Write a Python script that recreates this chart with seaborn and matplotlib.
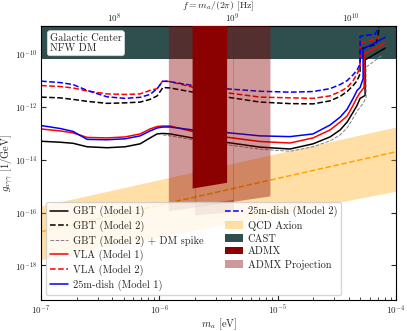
import matplotlib
matplotlib.use("Agg")
import matplotlib.pyplot as plt
import matplotlib.ticker as mticker
import numpy as np
import seaborn as sns
from matplotlib.lines import Line2D
from matplotlib.patches import Patch

# axion mass grid [eV] for the smooth part of the sensitivity curves
mass = [1.0e-7, 1.45e-7, 1.86e-7, 2.45e-7, 3.61e-7, 5.13e-7, 6.87e-7, 8.34e-7,
        9.57e-7, 1.07e-6, 1.23e-6, 1.93e-6, 3.74e-6, 7.10e-6, 1.27e-5, 1.99e-5,
        2.77e-5, 3.37e-5, 3.86e-5, 4.34e-5, 4.69e-5, 4.97e-5]

# sensitivity g_agg [1/GeV] on the grid above
gbt_m1 = [5.0e-14, 4.6e-14, 4.2e-14, 3.1e-14, 2.85e-14, 3.1e-14, 4.0e-14, 6.7e-14,
          9.5e-14, 9.9e-14, 9.5e-14, 6.6e-14, 4.5e-14, 3.0e-14, 2.55e-14, 4.0e-14,
          7.3e-14, 1.34e-13, 2.66e-13, 6.3e-13, 1.15e-12, 2.1e-12]
gbt_m2 = [2.34e-12, 2.19e-12, 1.92e-12, 1.62e-12, 1.36e-12, 1.42e-12, 1.52e-12, 1.92e-12,
          2.6e-12, 5.4e-12, 5.2e-12, 3.6e-12, 2.34e-12, 1.52e-12, 1.33e-12, 1.3e-12,
          1.69e-12, 2.49e-12, 3.8e-12, 6.4e-12, 9.8e-12, 1.8e-11]
vla_m1 = [1.46e-13, 1.23e-13, 1.04e-13, 7.0e-14, 6.7e-14, 7.3e-14, 9.5e-14, 1.46e-13,
          1.81e-13, 1.89e-13, 1.89e-13, 1.16e-13, 7.1e-14, 4.9e-14, 4.3e-14, 6.7e-14,
          1.34e-13, 2.66e-13, 4.5e-13, 1.15e-12, 2.3e-12, 3.5e-12]
vla_m2 = [6.4e-12, 5.9e-12, 5.2e-12, 4.0e-12, 3.1e-12, 2.95e-12, 3.1e-12, 4.2e-12,
          4.9e-12, 9.8e-12, 9.0e-12, 5.5e-12, 3.4e-12, 2.34e-12, 2.2e-12, 2.1e-12,
          2.6e-12, 3.8e-12, 5.4e-12, 9.8e-12, 1.8e-11, 3.0e-11]
dish_m1 = [1.97e-13, 1.52e-13, 1.18e-13, 5.9e-14, 5.7e-14, 6.2e-14, 8.0e-14, 1.23e-13,
           1.59e-13, 1.73e-13, 1.73e-13, 1.34e-13, 1.06e-13, 8.0e-14, 7.5e-14, 9.5e-14,
           2.06e-13, 4.1e-13, 8.1e-13, 2.1e-12, 4.2e-12, 5.4e-12]
dish_m2 = [9.4e-12, 8.3e-12, 7.0e-12, 4.2e-12, 2.4e-12, 2.1e-12, 2.3e-12, 2.95e-12,
           4.9e-12, 9.4e-12, 9.0e-12, 6.4e-12, 4.8e-12, 3.9e-12, 3.6e-12, 3.8e-12,
           4.9e-12, 7.0e-12, 9.8e-12, 1.64e-11, 2.5e-11, 4.2e-11]

# high-mass ends (step up where the band runs out)
gbt_m1_tail_m = [5.48e-5, 5.48e-5, 8.09e-5]
gbt_m1_tail_g = [2.7e-12, 6.0e-11, 1.67e-10]
gbt_m2_tail_m = [4.97e-5, 6.8e-5, 7.2e-5, 7.2e-5]
gbt_m2_tail_g = [1.54e-10, 2.35e-10, 9.3e-10, 1e-8]
vla_m1_tail_m = [5.37e-5, 5.37e-5, 8.09e-5]
vla_m1_tail_g = [5.4e-12, 1.0e-10, 2.6e-10]
vla_m2_tail_m = [4.97e-5, 6.8e-5, 7.2e-5]
vla_m2_tail_g = [2.6e-10, 3.6e-10, 4.5e-10]
dish_m1_tail_m = [5.27e-5, 5.27e-5, 8.09e-5]
dish_m1_tail_g = [1.17e-11, 1.54e-10, 4.3e-10]
dish_m2_tail_m = [4.97e-5, 6.65e-5, 7.06e-5, 7.06e-5]
dish_m2_tail_g = [4.7e-10, 5.6e-10, 9.3e-10, 1e-8]

# GBT (Model 2) + DM spike
spike_m = [1.07e-6, 1.23e-6, 1.93e-6, 3.74e-6, 7.10e-6, 1.27e-5, 1.99e-5, 2.77e-5,
           3.37e-5, 3.86e-5, 4.34e-5, 4.69e-5, 5.27e-5, 5.59e-5, 5.59e-5, 7.7e-5]
spike_g = [8.7e-14, 8.0e-14, 5.7e-14, 3.7e-14, 2.5e-14, 2.1e-14, 3.1e-14, 5.2e-14,
           8.7e-14, 1.59e-13, 3.8e-13, 6.9e-13, 1.36e-12, 2.3e-12, 3.2e-11, 9.2e-11]

# QCD axion band and the dashed model line
qcd_m = [1e-7, 1e-4]
qcd_lo = [1.66e-18, 6.5e-16]
qcd_hi = [1.78e-16, 1.74e-13]
qcd_line = [1.9e-17, 2.0e-14]

# existing limits / projections
cast_g = 6.6e-11
admx_m = [1.89e-6, 3.7e-6]
admx_lo = [8.5e-16, 1.41e-15]
proj_m = [1.19e-6, 8.6e-6]
proj_lo = [1.17e-16, 4.3e-16]
proj2_m = [2.0e-6, 4.2e-6]
proj2_lo = [8.3e-17, 1.07e-16]

g_top = 1e-8
HBAR = 6.582e-16  # eV s

sns.set_style("ticks")
plt.rcParams.update({
    "font.family": "serif",
    "font.serif": ["cmr10", "DejaVu Serif"],
    "mathtext.fontset": "cm",
    "axes.formatter.use_mathtext": True,
    "axes.unicode_minus": False,
    "font.size": 7,
    "axes.labelsize": 7.5,
    "xtick.direction": "in",
    "ytick.direction": "in",
    "xtick.labelsize": 6.5,
    "ytick.labelsize": 6.5,
    "xtick.major.pad": 2.5,
    "ytick.major.pad": 2.5,
    "axes.edgecolor": "black",
    "axes.linewidth": 0.8,
})

fig = plt.figure(figsize=(4.07, 3.31), dpi=100)
ax = fig.add_axes([0.101, 0.094, 0.872, 0.826])

# CAST
ax.axhspan(cast_g, g_top, color="darkslategray", lw=0, zorder=1)

# QCD band + line
ax.fill_between(qcd_m, qcd_lo, qcd_hi, color="orange", alpha=0.35, lw=0, zorder=1)
sns.lineplot(x=qcd_m, y=qcd_line, color="orange", linestyle="--", lw=1.1,
             estimator=None, sort=False, ax=ax, zorder=2)

# sensitivity curves
curves = [
    (mass, gbt_m1, gbt_m1_tail_m, gbt_m1_tail_g, "black", "-"),
    (mass, gbt_m2, gbt_m2_tail_m, gbt_m2_tail_g, "black", "--"),
    (mass, vla_m1, vla_m1_tail_m, vla_m1_tail_g, "red", "-"),
    (mass, vla_m2, vla_m2_tail_m, vla_m2_tail_g, "red", "--"),
    (mass, dish_m1, dish_m1_tail_m, dish_m1_tail_g, "blue", "-"),
    (mass, dish_m2, dish_m2_tail_m, dish_m2_tail_g, "blue", "--"),
]
for m, g, tm, tg, c, ls in curves:
    sns.lineplot(x=m + tm, y=g + tg, color=c, linestyle=ls, lw=1.1,
                 estimator=None, sort=False, ax=ax, zorder=2)
sns.lineplot(x=spike_m, y=spike_g, color="gray", linestyle="--", lw=0.7,
             estimator=None, sort=False, ax=ax, zorder=2)

# ADMX and projection
ax.fill_between(proj_m, proj_lo, g_top, color="darkred", alpha=0.4, lw=0, zorder=3)
ax.fill_between(proj2_m, proj2_lo, np.interp(np.log10(proj2_m), np.log10(proj_m), proj_lo),
                color="darkred", alpha=0.4, lw=0, zorder=3)
ax.vlines(proj2_m, proj2_lo, g_top, color="darkred", alpha=0.25, lw=0.6, zorder=3)
ax.fill_between(admx_m, admx_lo, g_top, color="darkred", lw=0, zorder=4)

ax.set_xscale("log")
ax.set_yscale("log")
ax.set_xlim(1e-7, 1e-4)
ax.set_ylim(5e-20, 1.1e-9)
ax.yaxis.set_major_locator(mticker.FixedLocator([1e-18, 1e-16, 1e-14, 1e-12, 1e-10]))
ax.yaxis.set_minor_locator(mticker.NullLocator())
ax.tick_params(axis="both", which="both", top=False, right=True)
ax.set_xlabel(r"$m_a$ [eV]", labelpad=0)
ax.set_ylabel(r"$g_{a\gamma\gamma}$ [1/GeV]", labelpad=0)

sec = ax.secondary_xaxis("top", functions=(lambda m: m / (2 * np.pi * HBAR),
                                           lambda f: f * 2 * np.pi * HBAR))
sec.xaxis.set_major_locator(mticker.FixedLocator([1e8, 1e9, 1e10]))
sec.xaxis.set_minor_locator(mticker.LogLocator(base=10, subs=np.arange(2, 10), numticks=12))
sec.xaxis.set_minor_formatter(mticker.NullFormatter())
sec.tick_params(axis="x", which="both", direction="in", pad=1)
sec.set_xlabel(r"$f = m_a/(2\pi)$ [Hz]", labelpad=2.5, fontsize=7)

ax.text(0.025, 0.975, "Galactic Center\nNFW DM", transform=ax.transAxes,
        va="top", ha="left", fontsize=7.5, linespacing=1.1, zorder=6,
        bbox=dict(boxstyle="round,pad=0.25", fc="white", ec="0.85", lw=0.6))

handles = [
    Line2D([], [], color="black", lw=1.1, ls="-"),
    Line2D([], [], color="black", lw=1.1, ls="--"),
    Line2D([], [], color="gray", lw=0.7, ls="--"),
    Line2D([], [], color="red", lw=1.1, ls="-"),
    Line2D([], [], color="red", lw=1.1, ls="--"),
    Line2D([], [], color="blue", lw=1.1, ls="-"),
    Line2D([], [], color="blue", lw=1.1, ls="--"),
    Patch(facecolor="orange", alpha=0.35, lw=0),
    Patch(facecolor="darkslategray", lw=0),
    Patch(facecolor="darkred", lw=0),
    Patch(facecolor="darkred", alpha=0.4, lw=0),
]
labels = ["GBT (Model 1)", "GBT (Model 2)", "GBT (Model 2) + DM spike",
          "VLA (Model 1)", "VLA (Model 2)", "25m-dish (Model 1)",
          "25m-dish (Model 2)", "QCD Axion", "CAST", "ADMX", "ADMX Projection"]
leg = ax.legend(handles, labels, ncol=2, loc="lower left", fontsize=7.5,
                labelspacing=0.32, handlelength=1.7, columnspacing=2.0,
                handletextpad=0.5, framealpha=0.8)
leg.set_zorder(7)

fig.savefig("out.png", dpi=100)
